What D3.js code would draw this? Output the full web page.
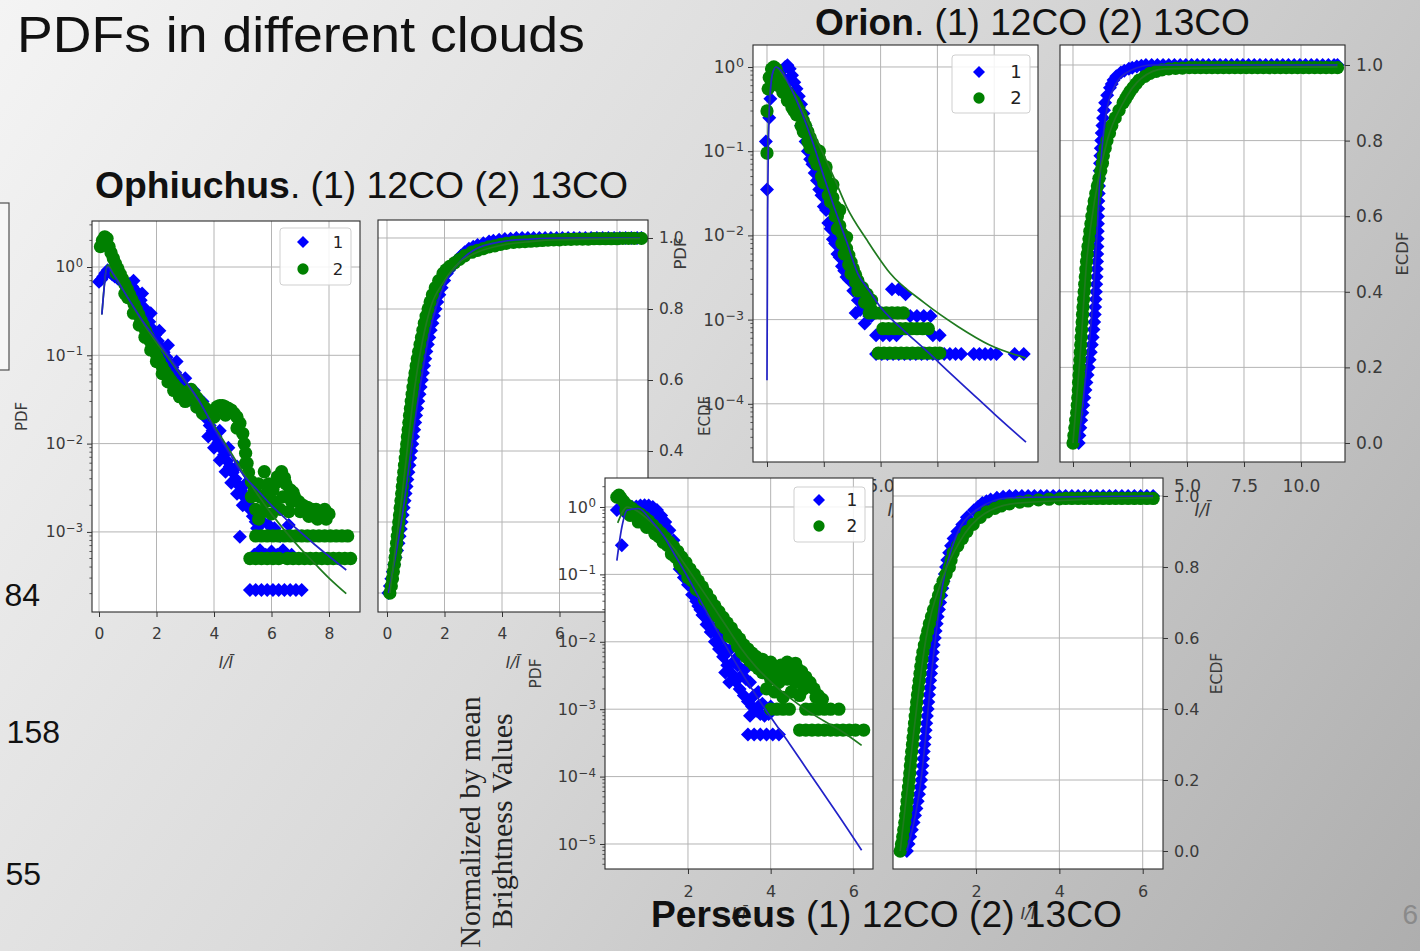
<!DOCTYPE html>
<html><head><meta charset="utf-8">
<script src="https://cdn.jsdelivr.net/npm/d3@7"></script>
<style>
html,body{margin:0;padding:0;overflow:hidden;background:#ddd;}
svg{display:block;}
</style></head><body>
<svg id="slide" width="1420" height="951"></svg>
<script>
// ---------------- data ----------------
// series "1" = 12CO (blue diamonds), series "2" = 13CO (green circles); x = I / mean(I)
const legendLabels = ["1", "2"];

// Ophiuchus PDF
const ophPdf12 = [
 [0.00,0.68],[0.08,0.72],[0.15,0.78],[0.22,0.85],[0.30,0.92],[0.38,0.88],[0.46,0.82],[0.55,0.78],[0.65,0.74],[0.75,0.70],
 [0.85,0.68],[0.95,0.66],[1.05,0.64],[1.15,0.60],[1.25,0.55],[1.35,0.48],[1.45,0.42],[1.55,0.35],[1.65,0.29],[1.75,0.24],
 [1.85,0.20],[1.95,0.17],[2.05,0.145],[2.15,0.125],[2.25,0.108],[2.35,0.095],[2.45,0.083],[2.55,0.073],[2.65,0.064],[2.75,0.056],
 [2.85,0.050],[2.95,0.044],[3.05,0.039],[3.15,0.035],[3.25,0.031],[3.35,0.028],[3.45,0.025],[3.55,0.023],[3.65,0.021],[3.75,0.019],
 [3.85,0.016],[3.95,0.014],[4.05,0.012],[4.15,0.0103],[4.25,0.0088],[4.35,0.0075],[4.45,0.0064],[4.55,0.0055],[4.65,0.0047],[4.75,0.0040],
 [4.85,0.0034],[4.95,0.0029],[5.05,0.0025],[5.15,0.0021],[5.25,0.0018],[5.35,0.0015],[5.45,0.0013],
 [1.30,0.40],[1.60,0.22],[1.90,0.13],[2.20,0.090],[2.50,0.062],[3.80,0.012],[4.00,0.0090],[4.20,0.0065],[4.40,0.0048],[4.60,0.0036],[4.80,0.0027],[5.00,0.0020],
 [1.20,0.70],[1.50,0.50],[1.80,0.30],[2.10,0.19],[2.40,0.13],[2.70,0.085],[3.00,0.055],[3.30,0.040],[3.60,0.030],[3.90,0.022],
 [4.20,0.014],[4.50,0.009],[4.80,0.0055],[5.10,0.0035],[5.30,0.0025],
 [4.90,0.00088],[5.50,0.0011],[5.70,0.0013],[5.90,0.0012],[6.10,0.0011],[6.30,0.0009],[6.60,0.0012],
 [5.40,0.00055],[5.60,0.00062],[5.80,0.00055],[6.00,0.00060],[6.20,0.00055],[6.40,0.00062],[6.70,0.00055],
 [5.25,0.00022],[5.45,0.00022],[5.65,0.00022],[5.85,0.00022],[6.05,0.00022],[6.25,0.00022],[6.45,0.00022],[6.65,0.00022],[6.85,0.00022],[7.05,0.00022]
];
const ophPdf13 = [
 [0.05,1.70],[0.12,2.00],[0.20,2.20],[0.28,2.10],[0.35,1.70],[0.42,1.45],[0.50,1.25],[0.58,1.08],[0.66,0.95],[0.74,0.83],
 [0.82,0.73],[0.90,0.64],[0.98,0.56],[1.06,0.49],[1.14,0.43],[1.22,0.38],[1.30,0.33],[1.38,0.29],[1.46,0.25],[1.54,0.22],
 [1.62,0.19],[1.70,0.165],[1.78,0.145],[1.86,0.125],[1.94,0.11],[2.02,0.096],[2.10,0.085],[2.20,0.074],[2.30,0.065],[2.40,0.058],
 [2.50,0.052],[2.60,0.047],[2.70,0.043],[2.80,0.040],[2.90,0.038],[3.00,0.037],[3.10,0.039],[3.20,0.041],[3.30,0.037],[3.40,0.033],
 [3.50,0.030],[3.60,0.027],[3.70,0.025],[3.80,0.023],[3.90,0.022],[4.00,0.024],[4.10,0.026],[4.20,0.027],[4.30,0.027],[4.40,0.026],
 [4.50,0.025],[4.60,0.024],[4.70,0.022],[4.80,0.020],[4.90,0.017],[5.00,0.013],[5.05,0.010],[5.10,0.0078],[5.15,0.0060],[5.20,0.0047],
 [5.30,0.0037],[5.40,0.0030],[5.50,0.0026],
 [1.00,0.45],[1.40,0.22],[1.80,0.115],[2.20,0.062],[2.60,0.040],[3.00,0.030],[3.40,0.026],
 [0.60,0.85],[0.90,0.50],[1.20,0.30],[1.60,0.16],[2.00,0.085],[2.40,0.050],[2.80,0.034],[3.20,0.034],[3.60,0.022],[4.00,0.020],
 [4.40,0.021],[4.80,0.015],[5.10,0.0060],[5.30,0.0025],[5.45,0.0018],[5.55,0.0014],
 [5.60,0.0025],[5.75,0.0048],[5.90,0.0035],[6.05,0.0030],[6.20,0.0042],[6.35,0.0048],[6.50,0.0035],[6.65,0.0030],[6.80,0.0025],[6.95,0.0022],
 [7.10,0.0020],[7.25,0.0019],[7.40,0.0018],[7.55,0.0018],[7.70,0.0016],[7.85,0.0018],[5.70,0.0017],[6.00,0.0016],[6.30,0.0018],[6.60,0.0017],
 [5.80,0.0022],[6.10,0.0022],[6.40,0.0025],[6.70,0.0022],[7.00,0.0017],[7.30,0.0015],[7.60,0.0014],[7.90,0.0014],[8.00,0.0016],
 [5.55,0.0035],[5.85,0.0028],[6.15,0.0036],[6.45,0.0041],[6.75,0.0028],
 [5.45,0.0009],[5.65,0.0009],[5.85,0.0009],[6.05,0.0009],[6.25,0.0009],[6.45,0.0009],[6.65,0.0009],[6.85,0.0009],[7.05,0.0009],
 [7.25,0.0009],[7.45,0.0009],[7.65,0.0009],[7.85,0.0009],[8.05,0.0009],[8.25,0.0009],[8.45,0.0009],[8.65,0.0009],
 [5.25,0.0005],[5.45,0.0005],[5.65,0.0005],[5.85,0.0005],[6.05,0.0005],[6.25,0.0005],[6.55,0.0005],[6.75,0.0005],[6.95,0.0005],
 [7.15,0.0005],[7.35,0.0005],[7.55,0.0005],[7.75,0.0005],[7.95,0.0005],[8.15,0.0005],[8.35,0.0005],[8.55,0.0005],[8.75,0.0005]
];
const ophFit12 = [[0.1,0.29],[0.3,1.0],[0.5,0.82],[1.0,0.45],[1.5,0.25],[2.0,0.15],[2.5,0.09],[3.0,0.052],[3.5,0.03],[4.0,0.015],
 [4.5,0.0082],[5.0,0.0045],[5.5,0.003],[6.0,0.002],[6.5,0.0014],[7.0,0.001],[7.5,0.00072],[8.0,0.00053],[8.6,0.00037]];
const ophFit13 = [[0.1,0.29],[0.3,1.05],[0.5,0.85],[1.0,0.45],[1.5,0.24],[2.0,0.14],[2.5,0.085],[3.0,0.05],[3.5,0.029],[4.0,0.016],
 [4.5,0.0088],[5.0,0.0048],[5.5,0.0027],[6.0,0.0016],[6.5,0.001],[7.0,0.00065],[7.5,0.00044],[8.0,0.0003],[8.6,0.0002]];

// Ophiuchus ECDF
const ophEcdf12 = [
 [0.05,0.00],[0.10,0.02],[0.15,0.04],[0.20,0.06],[0.25,0.08],[0.30,0.10],[0.35,0.12],[0.40,0.14],[0.44,0.16],[0.48,0.18],
 [0.51,0.20],[0.545,0.22],[0.58,0.24],[0.61,0.26],[0.645,0.28],[0.68,0.30],[0.71,0.32],[0.745,0.34],[0.78,0.36],[0.81,0.38],
 [0.845,0.40],[0.88,0.42],[0.91,0.44],[0.945,0.46],[0.98,0.48],[1.01,0.50],[1.05,0.52],[1.09,0.54],[1.13,0.56],[1.17,0.58],
 [1.21,0.60],[1.25,0.62],[1.29,0.64],[1.33,0.66],[1.37,0.68],[1.42,0.70],[1.47,0.72],[1.52,0.74],[1.58,0.76],[1.63,0.78],
 [1.69,0.80],[1.75,0.82],[1.82,0.84],[1.90,0.86],[1.99,0.88],[2.08,0.90],[2.16,0.91],[2.25,0.92],[2.35,0.93],[2.45,0.94],
 [2.57,0.95],[2.70,0.96],[2.85,0.97],[3.00,0.975],[3.15,0.98],[3.35,0.985],[3.55,0.99],[3.70,0.992],[3.90,0.995],[4.10,0.997],
 [4.30,0.998],[4.50,1],[4.70,1],[4.90,1],[5.10,1],[5.30,1],[5.50,1],[5.70,1],[5.90,1],[6.10,1],[6.30,1],[6.50,1],[6.70,1],
 [6.90,1],[7.10,1],[7.30,1],[7.50,1],[7.70,1],[7.90,1],[8.10,1],[8.30,1],[8.50,1],[8.70,1],[8.85,1]
];
const ophEcdf13 = [
 [0.10,0.00],[0.15,0.02],[0.19,0.04],[0.22,0.06],[0.255,0.08],[0.285,0.10],[0.31,0.12],[0.335,0.14],[0.36,0.16],[0.385,0.18],
 [0.41,0.20],[0.435,0.22],[0.46,0.24],[0.485,0.26],[0.51,0.28],[0.535,0.30],[0.56,0.32],[0.585,0.34],[0.61,0.36],[0.635,0.38],
 [0.66,0.40],[0.685,0.42],[0.71,0.44],[0.735,0.46],[0.76,0.48],[0.785,0.50],[0.815,0.52],[0.845,0.54],[0.875,0.56],[0.905,0.58],
 [0.94,0.60],[0.975,0.62],[1.015,0.64],[1.055,0.66],[1.10,0.68],[1.15,0.70],[1.20,0.72],[1.25,0.74],[1.30,0.76],[1.36,0.78],
 [1.43,0.80],[1.50,0.82],[1.58,0.84],[1.68,0.86],[1.80,0.88],[1.95,0.90],[2.05,0.91],[2.18,0.92],[2.35,0.93],[2.52,0.94],
 [2.70,0.95],[2.95,0.96],[3.15,0.965],[3.35,0.97],[3.55,0.975],[3.75,0.978],[3.95,0.982],[4.15,0.985],[4.40,0.988],[4.60,0.989],
 [4.80,0.99],[5.00,0.991],[5.20,0.992],[5.40,0.993],[5.60,0.994],[5.80,0.995],[6.00,0.995],[6.20,0.996],[6.40,0.996],[6.60,0.997],
 [6.80,0.997],[7.00,0.997],[7.20,0.998],[7.40,0.998],[7.60,0.998],[7.80,0.998],[8.00,0.998],[8.20,0.999],[8.40,0.999],[8.60,0.999],[8.85,0.999]
];
const ophEcdfFit12 = [[0.05,0.0],[0.5,0.2],[1.0,0.5],[1.5,0.74],[2.0,0.87],[2.5,0.93],[3.0,0.965],[4.0,0.99],[5.0,0.997],[6.0,1],[8.8,1]];
const ophEcdfFit13 = [[0.1,0.0],[0.5,0.26],[1.0,0.6],[1.5,0.8],[2.0,0.88],[2.5,0.93],[3.0,0.955],[4.0,0.98],[5.0,0.99],[6.0,0.995],[8.8,0.998]];

// Orion PDF
const oriPdf12 = [
 [0.00,0.035],[-0.05,0.13],[0.10,0.25],[0.15,0.42],[0.25,0.60],[0.35,0.72],[0.50,0.80],[0.65,0.90],[0.80,1.00],[0.90,1.05],
 [1.00,0.95],[1.10,0.80],[1.20,0.66],[1.30,0.55],[1.40,0.45],[1.50,0.36],[1.60,0.28],[1.70,0.20],[1.80,0.15],[1.90,0.12],
 [2.00,0.10],[2.10,0.085],[2.20,0.075],[2.30,0.065],[2.40,0.055],[2.50,0.046],[2.60,0.038],[2.70,0.031],[2.80,0.025],[2.90,0.019],
 [3.00,0.015],[3.10,0.012],[3.20,0.0095],[3.30,0.0077],[3.40,0.0063],[3.50,0.0052],[3.60,0.0043],[3.70,0.0036],[3.80,0.0030],[3.90,0.0025],
 [4.00,0.0021],[4.20,0.0017],[4.40,0.0013],[4.60,0.0011],
 [1.30,0.30],[1.50,0.20],[1.70,0.13],[1.90,0.08],[2.10,0.055],[2.30,0.035],[2.50,0.022],[2.70,0.014],[2.90,0.009],[3.10,0.006],[3.30,0.0043],[3.50,0.0032],
 [0.60,0.60],[0.80,0.70],[1.00,0.70],[1.20,0.50],[1.40,0.33],[1.60,0.20],[1.80,0.10],[2.00,0.070],[2.20,0.045],[2.40,0.030],
 [2.60,0.020],[2.80,0.012],[3.00,0.008],[3.20,0.0055],[3.40,0.0038],[3.60,0.0030],[3.80,0.0022],[4.00,0.0017],[4.10,0.0013],[3.90,0.0012],
 [4.30,0.0009],[4.50,0.0011],[4.80,0.00065],[5.10,0.00065],[5.40,0.00065],[5.70,0.00065],[5.50,0.0023],[5.80,0.0023],[6.10,0.0020],
 [6.30,0.0011],[6.60,0.0011],[6.90,0.0011],[7.20,0.0011],[7.30,0.00065],[7.60,0.00065],
 [4.80,0.00039],[5.05,0.00039],[5.30,0.00039],[5.55,0.00039],[5.80,0.00039],[6.05,0.00039],[6.30,0.00039],[6.55,0.00039],[6.80,0.00039],
 [7.05,0.00039],[7.30,0.00039],[7.55,0.00039],[7.80,0.00039],[8.05,0.00039],[8.30,0.00039],[8.55,0.00039],[9.10,0.00039],[9.35,0.00039],
 [9.60,0.00039],[9.85,0.00039],[10.10,0.00039],[10.90,0.00039],[11.30,0.00039]
];
const oriPdf13 = [
 [0.00,0.095],[0.00,0.30],[0.05,0.55],[0.10,0.75],[0.20,0.95],[0.30,1.00],[0.40,0.95],[0.50,0.80],[0.60,0.68],[0.70,0.60],
 [0.80,0.54],[0.90,0.50],[1.00,0.46],[1.10,0.42],[1.20,0.39],[1.30,0.35],[1.40,0.31],[1.50,0.27],[1.60,0.23],[1.70,0.20],
 [1.80,0.17],[1.90,0.145],[2.00,0.125],[2.10,0.11],[2.20,0.095],[2.30,0.082],[2.40,0.070],[2.50,0.060],[2.60,0.050],[2.70,0.042],
 [2.80,0.035],[2.90,0.028],[3.00,0.022],[3.10,0.017],[3.20,0.013],[3.30,0.0105],[3.40,0.0085],[3.50,0.0070],[3.60,0.0058],[3.70,0.0048],
 [3.80,0.0040],[3.90,0.0034],[4.00,0.0029],[4.20,0.0024],[4.40,0.0020],[4.60,0.0017],
 [1.20,0.30],[1.50,0.20],[1.80,0.13],[2.10,0.08],[2.40,0.05],[2.70,0.03],[3.00,0.017],[3.30,0.008],[3.60,0.0045],[3.90,0.0028],
 [0.50,0.60],[0.70,0.50],[0.90,0.40],[1.10,0.33],[1.30,0.27],[1.60,0.17],[1.90,0.11],[2.20,0.07],[2.50,0.042],[2.80,0.025],
 [3.10,0.012],[3.40,0.006],[3.70,0.0035],[4.00,0.0022],[4.30,0.0016],[4.60,0.0013],[2.30,0.10],[2.60,0.065],[2.90,0.040],[3.20,0.020],[3.50,0.0095],
 [4.50,0.0012],[4.75,0.0012],[5.00,0.0012],[5.25,0.0012],[5.50,0.0012],[5.75,0.0012],[6.00,0.0012],
 [5.10,0.00078],[5.35,0.00078],[5.60,0.00078],[5.85,0.00078],[6.10,0.00078],[6.35,0.00078],[6.60,0.00078],[6.85,0.00078],[7.10,0.00078],
 [4.90,0.0004],[5.15,0.0004],[5.40,0.0004],[5.65,0.0004],[5.90,0.0004],[6.15,0.0004],[6.40,0.0004],[6.65,0.0004],[6.90,0.0004],
 [7.15,0.0004],[7.40,0.0004],[7.60,0.0004]
];
const oriFit12 = [[0.0,0.00019],[0.03,0.02],[0.1,0.3],[0.25,0.85],[0.4,1.0],[0.7,0.85],[1.0,0.6],[1.5,0.3],[2.0,0.13],[2.5,0.05],
 [3.0,0.02],[3.5,0.0085],[4.0,0.0035],[4.5,0.0022],[5.0,0.0014],[5.5,0.001],[6.0,0.00075],[7.0,0.00043],[8.0,0.00024],[9.0,0.000135],
 [10.0,0.000076],[11.4,0.000035]];
const oriFit13 = [[0.02,0.08],[0.1,0.35],[0.25,0.85],[0.4,1.0],[0.7,0.8],[1.0,0.6],[1.5,0.33],[2.0,0.17],[2.5,0.09],[3.0,0.045],
 [3.5,0.022],[4.4,0.0088],[5.4,0.0036],[6.9,0.0016],[8.4,0.00083],[9.8,0.0005],[11.4,0.00035]];

// Orion ECDF
const oriEcdf12 = [
 [0.25,0.00],[0.28,0.02],[0.32,0.04],[0.36,0.06],[0.41,0.08],[0.45,0.10],[0.50,0.12],[0.545,0.14],[0.59,0.16],[0.64,0.18],
 [0.685,0.20],[0.73,0.22],[0.78,0.24],[0.825,0.26],[0.865,0.28],[0.90,0.30],[0.93,0.32],[0.955,0.34],[0.97,0.36],[0.99,0.38],
 [1.005,0.40],[1.02,0.42],[1.035,0.44],[1.045,0.46],[1.055,0.48],[1.065,0.50],[1.072,0.52],[1.08,0.54],[1.087,0.56],[1.093,0.58],
 [1.10,0.60],[1.107,0.62],[1.113,0.64],[1.13,0.66],[1.14,0.68],[1.155,0.70],[1.17,0.72],[1.185,0.74],[1.20,0.76],[1.22,0.78],
 [1.24,0.80],[1.26,0.82],[1.29,0.84],[1.32,0.86],[1.36,0.88],[1.41,0.90],[1.50,0.92],[1.62,0.94],[1.70,0.95],[1.78,0.96],
 [1.90,0.97],[2.10,0.98],[2.25,0.985],[2.45,0.99],[2.60,0.993],[2.80,0.996],[3.00,0.998],[3.20,1],
 [3.45,1],[3.70,1],[3.95,1],[4.20,1],[4.45,1],[4.70,1],[4.95,1],[5.20,1],[5.45,1],[5.70,1],[5.95,1],[6.20,1],[6.45,1],[6.70,1],
 [6.95,1],[7.20,1],[7.45,1],[7.70,1],[7.95,1],[8.20,1],[8.45,1],[8.70,1],[8.95,1],[9.20,1],[9.45,1],[9.70,1],[9.95,1],[10.20,1],
 [10.45,1],[10.70,1],[10.95,1],[11.20,1],[11.45,1],[11.60,1]
];
const oriEcdf13 = [
 [0.00,0.00],[0.04,0.02],[0.08,0.04],[0.12,0.06],[0.16,0.08],[0.19,0.10],[0.21,0.12],[0.23,0.14],[0.245,0.16],[0.265,0.18],
 [0.28,0.20],[0.30,0.22],[0.32,0.24],[0.34,0.26],[0.36,0.28],[0.38,0.30],[0.40,0.32],[0.42,0.34],[0.44,0.36],[0.465,0.38],
 [0.49,0.40],[0.515,0.42],[0.54,0.44],[0.565,0.46],[0.595,0.48],[0.625,0.50],[0.66,0.52],[0.70,0.54],[0.74,0.56],[0.785,0.58],
 [0.83,0.60],[0.88,0.62],[0.93,0.64],[1.00,0.66],[1.07,0.68],[1.14,0.70],[1.22,0.72],[1.29,0.74],[1.33,0.76],[1.41,0.78],
 [1.49,0.80],[1.60,0.82],[1.70,0.84],[1.85,0.86],[2.02,0.88],[2.20,0.90],[2.30,0.91],[2.40,0.92],[2.50,0.93],[2.63,0.94],
 [2.76,0.95],[2.90,0.96],[3.15,0.97],[3.38,0.978],[3.65,0.983],[3.90,0.987],[4.20,0.99],[4.50,0.991],[4.80,0.992],[5.10,0.993],
 [5.35,0.993],[5.60,0.993],[5.85,0.993],[6.10,0.993],[6.35,0.993],[6.60,0.993],[6.85,0.993],[7.10,0.993],[7.35,0.993],[7.60,0.993],
 [7.85,0.993],[8.10,0.993],[8.35,0.993],[8.60,0.993],[8.85,0.993],[9.10,0.993],[9.35,0.993],[9.60,0.993],[9.85,0.993],[10.10,0.993],
 [10.35,0.993],[10.60,0.993],[10.85,0.993],[11.10,0.993],[11.35,0.993],[11.60,0.993]
];
const oriEcdfFit12 = [[0.25,0.0],[0.6,0.2],[0.9,0.4],[1.05,0.55],[1.2,0.72],[1.4,0.85],[1.8,0.94],[2.5,0.985],[3.5,1],[11.6,1]];
const oriEcdfFit13 = [[0.0,0.0],[0.3,0.22],[0.6,0.48],[1.0,0.66],[1.5,0.8],[2.2,0.9],[3.0,0.965],[4.0,0.99],[11.6,0.995]];

// Perseus PDF
const perPdf12 = [
 [0.28,0.90],[0.40,0.27],[0.45,0.85],[0.55,0.95],[0.65,1.00],[0.75,1.02],[0.85,1.05],[0.95,1.06],[1.05,1.05],[1.15,1.00],
 [1.25,0.90],[1.35,0.75],[1.45,0.60],[1.55,0.45],[1.65,0.32],[1.75,0.22],[1.85,0.15],[1.95,0.10],[2.05,0.068],[2.15,0.048],
 [2.25,0.034],[2.35,0.025],[2.45,0.018],[2.55,0.014],[2.65,0.010],[2.75,0.0078],[2.85,0.0060],[2.95,0.0045],[3.05,0.0034],[3.15,0.0026],
 [3.25,0.0020],[3.35,0.0016],[3.45,0.0013],[3.55,0.0011],[3.65,0.00095],[3.75,0.00085],[3.85,0.00080],[3.95,0.00085],
 [1.10,0.75],[1.30,0.50],[1.50,0.30],[1.70,0.17],[1.90,0.09],[2.10,0.05],[2.30,0.03],[2.50,0.020],[2.70,0.013],[2.90,0.008],
 [3.10,0.005],[3.30,0.0032],[3.50,0.0025],[3.70,0.0018],[3.20,0.0045],[3.40,0.0040],[2.90,0.0035],[3.00,0.0025],
 [0.60,0.80],[0.80,0.85],[1.00,0.85],[1.20,0.65],[1.40,0.42],[1.60,0.24],[1.80,0.12],[2.00,0.070],[2.20,0.040],[2.40,0.024],
 [2.60,0.016],[2.80,0.011],[3.00,0.0075],[3.20,0.0060],[3.40,0.0028],[3.60,0.0016],[3.80,0.0012],[4.00,0.0009],
 [3.50,0.0008],[3.70,0.0011],[4.00,0.0011],
 [3.45,0.00042],[3.60,0.00042],[3.75,0.00042],[3.90,0.00042],[4.05,0.00042],[4.20,0.00042]
];
const perPdf13 = [
 [0.28,1.40],[0.33,1.50],[0.38,1.35],[0.45,1.20],[0.55,1.05],[0.65,0.95],[0.75,0.85],[0.85,0.78],[0.95,0.70],[1.05,0.62],
 [1.15,0.54],[1.25,0.47],[1.35,0.41],[1.45,0.35],[1.55,0.30],[1.65,0.26],[1.75,0.22],[1.85,0.18],[1.95,0.15],[2.05,0.12],
 [2.15,0.10],[2.25,0.080],[2.35,0.065],[2.45,0.052],[2.55,0.042],[2.65,0.034],[2.75,0.028],[2.85,0.023],[2.95,0.019],[3.05,0.016],
 [3.15,0.013],[3.25,0.011],[3.35,0.0090],[3.45,0.0078],[3.55,0.0068],[3.65,0.0060],[3.75,0.0054],[3.85,0.0049],[3.95,0.0045],[4.05,0.0042],
 [4.15,0.0040],[4.25,0.0045],[4.35,0.0042],[4.45,0.0040],[4.55,0.0045],[4.65,0.0040],[4.75,0.0036],[4.85,0.0030],[4.95,0.0025],[5.05,0.0020],
 [5.15,0.0016],[5.25,0.0014],
 [0.60,0.75],[0.80,0.60],[1.00,0.50],[1.20,0.40],[1.40,0.30],[1.60,0.20],[1.80,0.14],[2.00,0.09],[2.20,0.06],[2.40,0.042],
 [2.60,0.028],[2.80,0.019],[3.00,0.012],[3.20,0.0085],[3.40,0.0060],[3.60,0.0045],[3.80,0.0035],[4.00,0.0028],[4.20,0.0025],[4.40,0.0028],
 [4.60,0.0025],[4.80,0.0020],[3.90,0.0020],[4.10,0.0018],[4.30,0.0015],[4.50,0.0018],[4.70,0.0016],
 [0.50,0.90],[0.70,0.75],[0.90,0.60],[1.10,0.50],[1.30,0.36],[1.50,0.27],[1.70,0.18],[1.90,0.12],[2.10,0.08],[2.30,0.055],
 [2.50,0.036],[2.70,0.024],[2.90,0.016],[3.10,0.011],[3.30,0.007],[3.50,0.0052],[3.70,0.0040],[3.90,0.0034],[4.10,0.0030],[4.30,0.0032],
 [4.50,0.0030],[4.70,0.0028],[4.90,0.0022],[5.10,0.0015],[3.80,0.0055],[4.00,0.0050],[4.40,0.0050],[4.60,0.0048],
 [4.00,0.001],[4.15,0.001],[4.30,0.001],[4.45,0.001],[4.85,0.001],[5.00,0.001],[5.15,0.001],[5.30,0.001],[5.45,0.001],[5.65,0.001],
 [4.70,0.00049],[4.85,0.00049],[5.00,0.00049],[5.15,0.00049],[5.30,0.00049],[5.45,0.00049],[5.60,0.00049],[5.75,0.00049],[5.90,0.00049],
 [6.05,0.00049],[6.25,0.00049]
];
const perFit12 = [[0.28,0.16],[0.4,0.5],[0.53,0.9],[0.8,0.95],[1.1,0.64],[1.4,0.38],[1.65,0.21],[2.0,0.09],[2.46,0.027],[2.9,0.009],
 [3.26,0.0038],[3.65,0.0016],[4.05,0.00069],[4.45,0.00031],[4.87,0.00013],[5.27,0.000057],[5.67,0.000025],[6.2,0.0000081]];
const perFit13 = [[0.3,0.58],[0.53,1.0],[0.8,0.85],[1.1,0.6],[1.4,0.38],[1.64,0.25],[2.0,0.12],[2.46,0.046],[2.9,0.018],[3.26,0.0084],
 [3.65,0.0042],[4.05,0.0024],[4.45,0.0015],[4.87,0.00097],[5.27,0.00068],[5.67,0.00049],[6.2,0.00029]];

// Perseus ECDF
const perEcdf12 = [
 [0.34,0.00],[0.38,0.02],[0.42,0.04],[0.46,0.06],[0.50,0.08],[0.535,0.10],[0.57,0.12],[0.60,0.14],[0.63,0.16],[0.655,0.18],
 [0.68,0.20],[0.70,0.22],[0.715,0.24],[0.73,0.26],[0.745,0.28],[0.76,0.30],[0.775,0.32],[0.79,0.34],[0.805,0.36],[0.82,0.38],
 [0.84,0.40],[0.855,0.42],[0.87,0.44],[0.885,0.46],[0.90,0.48],[0.92,0.50],[0.935,0.52],[0.95,0.54],[0.965,0.56],[0.985,0.58],
 [1.01,0.60],[1.03,0.62],[1.055,0.64],[1.08,0.66],[1.11,0.68],[1.14,0.70],[1.165,0.72],[1.19,0.74],[1.22,0.76],[1.25,0.78],
 [1.28,0.80],[1.31,0.82],[1.355,0.84],[1.40,0.86],[1.46,0.88],[1.55,0.90],[1.67,0.92],[1.78,0.94],[1.95,0.96],[2.05,0.97],
 [2.15,0.98],[2.25,0.985],[2.35,0.99],[2.50,0.995],[2.65,0.998],[2.80,1],
 [2.95,1],[3.10,1],[3.25,1],[3.40,1],[3.55,1],[3.70,1],[3.85,1],[4.00,1],[4.15,1],[4.30,1],[4.45,1],[4.60,1],[4.75,1],
 [4.90,1],[5.05,1],[5.20,1],[5.35,1],[5.50,1],[5.65,1],[5.80,1],[5.95,1],[6.10,1],[6.25,1]
];
const perEcdf13 = [
 [0.18,0.00],[0.21,0.02],[0.24,0.04],[0.265,0.06],[0.29,0.08],[0.31,0.10],[0.33,0.12],[0.345,0.14],[0.36,0.16],[0.38,0.18],
 [0.395,0.20],[0.41,0.22],[0.425,0.24],[0.44,0.26],[0.455,0.28],[0.475,0.30],[0.49,0.32],[0.51,0.34],[0.525,0.36],[0.54,0.38],
 [0.56,0.40],[0.575,0.42],[0.595,0.44],[0.615,0.46],[0.635,0.48],[0.655,0.50],[0.675,0.52],[0.70,0.54],[0.725,0.56],[0.76,0.58],
 [0.80,0.60],[0.84,0.62],[0.88,0.64],[0.93,0.66],[0.98,0.68],[1.04,0.70],[1.10,0.72],[1.14,0.74],[1.21,0.76],[1.28,0.78],
 [1.36,0.80],[1.40,0.82],[1.45,0.84],[1.56,0.86],[1.67,0.88],[1.78,0.90],[1.93,0.92],[2.10,0.94],[2.26,0.955],[2.45,0.965],
 [2.60,0.972],[2.80,0.978],[3.05,0.983],[3.25,0.986],[3.50,0.989],[3.75,0.991],[4.00,0.992],
 [4.15,0.993],[4.30,0.993],[4.45,0.993],[4.60,0.993],[4.75,0.993],[4.90,0.993],[5.05,0.993],[5.20,0.993],[5.35,0.993],[5.50,0.993],
 [5.65,0.993],[5.80,0.993],[5.95,0.993],[6.10,0.993],[6.25,0.993]
];
const perEcdfFit12 = [[0.34,0.0],[0.7,0.22],[0.95,0.52],[1.2,0.75],[1.5,0.88],[2.0,0.96],[2.8,0.995],[6.25,1]];
const perEcdfFit13 = [[0.18,0.0],[0.5,0.33],[0.8,0.6],[1.2,0.77],[1.6,0.87],[2.2,0.95],[3.0,0.98],[6.25,0.995]];

// tick values
const ophXTicks = [0, 2, 4, 6, 8];
const oriXTicks = [0, 2.5, 5, 7.5, 10];
const perXTicks = [2, 4, 6];
const ophYTicks = [1e-3, 1e-2, 1e-1, 1];
const oriYTicks = [1e-4, 1e-3, 1e-2, 1e-1, 1];
const perYTicks = [1e-5, 1e-4, 1e-3, 1e-2, 1e-1, 1];
const ecdfTicks = [0, 0.2, 0.4, 0.6, 0.8, 1.0];

// ---------------- drawing ----------------
const BLUE = "#0000ff", GREEN = "#008000";
const BLUE_LINE = "#2222c8", GREEN_LINE = "#1f7a1f";
const MPL_FONT = "'DejaVu Sans', Verdana, sans-serif";
const SLIDE_FONT = "'Liberation Sans', Arial, Helvetica, sans-serif";

const svg = d3.select("#slide");
const defs = svg.append("defs");

const grad = defs.append("linearGradient").attr("id", "slideBg")
  .attr("gradientUnits", "userSpaceOnUse").attr("x1", 0).attr("y1", 0).attr("x2", 1420).attr("y2", 951);
grad.append("stop").attr("offset", 0).attr("stop-color", "#f4f4f4");
grad.append("stop").attr("offset", 0.45).attr("stop-color", "#dadada");
grad.append("stop").attr("offset", 1).attr("stop-color", "#aeaeae");
svg.append("rect").attr("width", 1420).attr("height", 951).attr("fill", "url(#slideBg)");

// scale a text element horizontally so its rendered width equals `target`
function fitWidth(sel, x0, y0, target) {
  const w = sel.node().getComputedTextLength();
  sel.attr("x", 0).attr("y", 0).attr("transform", `translate(${x0},${y0}) scale(${target / w},1)`);
}

// left-hand remnants of the neighbouring content
svg.append("rect").attr("x", -10).attr("y", 203).attr("width", 19).attr("height", 167)
  .attr("fill", "#f6f6f6").attr("stroke", "#505050").attr("stroke-width", 1.2);
const sideNums = [["84", 40, 606], ["158", 60, 743], ["55", 41, 885]];
svg.append("g").selectAll("text").data(sideNums).join("text")
  .attr("x", d => d[1]).attr("y", d => d[2]).attr("text-anchor", "end")
  .attr("font-family", SLIDE_FONT).attr("font-size", 32).attr("fill", "#111").text(d => d[0]);

// page title
const title = svg.append("text").attr("font-family", SLIDE_FONT).attr("font-size", 50).attr("fill", "#111")
  .text("PDFs in different clouds");
fitWidth(title, 17, 52, 568);

function cloudTitle(name, rest, x0, y0, width) {
  const t = svg.append("text").attr("font-family", SLIDE_FONT).attr("font-size", 37).attr("fill", "#111");
  t.append("tspan").attr("font-weight", "bold").text(name);
  t.append("tspan").text(rest);
  fitWidth(t, x0, y0, width);
}

let clipCount = 0;
function powLabel(sel) {
  sel.each(function (d) {
    const t = d3.select(this);
    const e = Math.round(Math.log10(d));
    t.text("10");
    t.append("tspan").attr("dy", "-0.48em").attr("dx", "0.05em").attr("font-size", "0.74em")
      .text(e < 0 ? "\u2212" + (-e) : String(e));
  });
}

function drawPanel(cfg) {
  const b = cfg.box;
  const g = svg.append("g");
  const W = b.right - b.left, H = b.bottom - b.top;
  const x = d3.scaleLinear().domain(cfg.xDomain).range([b.left, b.right]);
  const y = cfg.logY ? d3.scaleLog().domain(cfg.yDomain).range([b.bottom, b.top])
                     : d3.scaleLinear().domain(cfg.yDomain).range([b.bottom, b.top]);
  const fs = cfg.fontSize;

  g.append("rect").attr("x", b.left).attr("y", b.top).attr("width", W).attr("height", H).attr("fill", "#fff");

  const grid = g.append("g").attr("stroke", "#b4b4b4").attr("stroke-width", 1);
  grid.selectAll("line.gx").data(cfg.xTicks).join("line").attr("class", "gx")
    .attr("x1", d => x(d)).attr("x2", d => x(d)).attr("y1", b.top).attr("y2", b.bottom);
  grid.selectAll("line.gy").data(cfg.yTicks).join("line").attr("class", "gy")
    .attr("x1", b.left).attr("x2", b.right).attr("y1", d => y(d)).attr("y2", d => y(d));

  const cid = "plotClip" + (clipCount++);
  defs.append("clipPath").attr("id", cid).append("rect")
    .attr("x", b.left).attr("y", b.top).attr("width", W).attr("height", H);
  const plot = g.append("g").attr("clip-path", `url(#${cid})`);

  const ms = cfg.markerSize;
  const diamond = d3.symbol().type(d3.symbolSquare).size(ms * ms / 2);
  const circle = d3.symbol().type(d3.symbolCircle).size(Math.PI * ms * ms / 4 * 0.9);

  cfg.series.forEach(s => {
    const isD = s.marker === "D";
    plot.append("g").selectAll("path").data(s.data).join("path")
      .attr("d", isD ? diamond : circle)
      .attr("fill", s.color)
      .attr("transform", d => `translate(${x(d[0]).toFixed(2)},${y(d[1]).toFixed(2)})${isD ? " rotate(45)" : ""}`);
  });
  const line = d3.line().x(d => x(d[0])).y(d => y(d[1])).curve(d3.curveMonotoneX);
  cfg.fits.forEach(f => {
    plot.append("path").datum(f.data).attr("fill", "none").attr("stroke", f.color)
      .attr("stroke-width", 1.7).attr("d", line);
  });

  g.append("rect").attr("x", b.left).attr("y", b.top).attr("width", W).attr("height", H)
    .attr("fill", "none").attr("stroke", "#2a2a2a").attr("stroke-width", 1.1);

  // x axis
  const xa = g.append("g").attr("transform", `translate(0,${b.bottom})`)
    .call(d3.axisBottom(x).tickValues(cfg.xTicks).tickFormat(cfg.xFormat).tickSize(5).tickSizeOuter(0));
  xa.select(".domain").remove();
  xa.attr("font-family", MPL_FONT).attr("font-size", fs).attr("color", "#333");
  xa.selectAll(".tick text").attr("dy", null).attr("y", cfg.xTickBase).attr("fill", "#3a3a3a");

  // y axis
  const yAxis = (cfg.yRight ? d3.axisRight(y) : d3.axisLeft(y)).tickValues(cfg.yTicks)
    .tickSize(5).tickPadding(cfg.yRight ? 6 : 4).tickSizeOuter(0);
  if (!cfg.logY) yAxis.tickFormat(d3.format(".1f"));
  const ya = g.append("g").attr("transform", `translate(${cfg.yRight ? b.right : b.left},0)`).call(yAxis);
  ya.select(".domain").remove();
  ya.attr("font-family", MPL_FONT).attr("font-size", fs).attr("color", "#333");
  ya.selectAll(".tick text").attr("fill", "#3a3a3a");
  if (cfg.logY) {
    ya.selectAll(".tick text").call(powLabel);
    const minor = y.ticks().filter(v => Math.abs(Math.log10(v) - Math.round(Math.log10(v))) > 1e-6);
    g.append("g").selectAll("line").data(minor).join("line")
      .attr("x1", b.left).attr("x2", b.left - 2.6).attr("y1", d => y(d)).attr("y2", d => y(d))
      .attr("stroke", "#333").attr("stroke-width", 0.8);
  }

  // axis titles
  g.append("text").attr("x", (b.left + b.right) / 2).attr("y", b.bottom + cfg.xLabelBase)
    .attr("text-anchor", "middle").attr("font-family", MPL_FONT).attr("font-style", "italic")
    .attr("font-size", fs).attr("fill", "#3a3a3a").text("I/\u012A");
  const yl = cfg.yRight ? b.right + cfg.yLabelOff : b.left - cfg.yLabelOff;
  g.append("text").attr("transform", `translate(${yl},${(b.top + b.bottom) / 2}) rotate(-90)`)
    .attr("text-anchor", "middle").attr("font-family", MPL_FONT).attr("font-size", fs - 0.5)
    .attr("fill", "#3a3a3a").text(cfg.yLabel);

  // legend
  if (cfg.legend) {
    const L = cfg.legend;
    const lg = g.append("g");
    lg.append("rect").attr("x", L.x).attr("y", L.y).attr("width", L.w).attr("height", L.h).attr("rx", 3)
      .attr("fill", "#fff").attr("fill-opacity", 0.85).attr("stroke", "#cfcfcf").attr("stroke-width", 1);
    const ld = d3.symbol().type(d3.symbolSquare).size(72);
    const lc = d3.symbol().type(d3.symbolCircle).size(100);
    cfg.series.forEach((s, i) => {
      const isD = s.marker === "D";
      lg.append("path").attr("d", isD ? ld : lc).attr("fill", s.color)
        .attr("transform", `translate(${L.mx},${L.rows[i]})${isD ? " rotate(45)" : ""}`);
      lg.append("text").attr("x", L.lx).attr("y", L.rows[i]).attr("dy", "0.36em").attr("text-anchor", "middle")
        .attr("font-family", MPL_FONT).attr("font-size", fs + 1).attr("fill", "#222").text(legendLabels[i]);
    });
  }
}

const intFmt = d3.format("d"), oneFmt = d3.format(".1f");

// ---- Ophiuchus ----
cloudTitle("Ophiuchus", ". (1) 12CO (2) 13CO", 95, 198, 533);
drawPanel({
  box: {left: 92, right: 360, top: 221, bottom: 612},
  xDomain: [-0.2435, 9.078], yDomain: [Math.pow(10, -3.907), Math.pow(10, 0.521)], logY: true,
  xTicks: ophXTicks, yTicks: ophYTicks, xFormat: intFmt, fontSize: 15.5, markerSize: 14,
  xTickBase: 27, xLabelBase: 56, yLabel: "PDF", yLabelOff: 65,
  series: [{data: ophPdf12, marker: "D", color: BLUE}, {data: ophPdf13, marker: "o", color: GREEN}],
  fits: [{data: ophFit13, color: GREEN_LINE}, {data: ophFit12, color: BLUE_LINE}],
  legend: {x: 280, y: 228, w: 71, h: 57, mx: 303, lx: 338, rows: [242, 269]}
});
drawPanel({
  box: {left: 378, right: 648, top: 220, bottom: 612},
  xDomain: [-0.313, 9.078], yDomain: [-0.0535, 1.0507], logY: false, yRight: true,
  xTicks: ophXTicks, yTicks: ecdfTicks, xFormat: intFmt, fontSize: 15.5, markerSize: 14,
  xTickBase: 27, xLabelBase: 56, yLabel: "ECDF", yLabelOff: 62,
  series: [{data: ophEcdf12, marker: "D", color: BLUE}, {data: ophEcdf13, marker: "o", color: GREEN}],
  fits: [{data: ophEcdfFit12, color: BLUE_LINE}, {data: ophEcdfFit13, color: GREEN_LINE}]
});

// ---- Orion ----
cloudTitle("Orion", ". (1) 12CO (2) 13CO", 815, 35, 435);
drawPanel({
  box: {left: 753, right: 1038, top: 45, bottom: 462},
  xDomain: [-0.616, 11.928], yDomain: [Math.pow(10, -4.691), Math.pow(10, 0.261)], logY: true,
  xTicks: oriXTicks, yTicks: oriYTicks, xFormat: oneFmt, fontSize: 17, markerSize: 14,
  xTickBase: 30, xLabelBase: 54, yLabel: "PDF", yLabelOff: 67,
  series: [{data: oriPdf12, marker: "D", color: BLUE}, {data: oriPdf13, marker: "o", color: GREEN}],
  fits: [{data: oriFit13, color: GREEN_LINE}, {data: oriFit12, color: BLUE_LINE}],
  legend: {x: 952, y: 55, w: 78, h: 58, mx: 979, lx: 1016, rows: [72, 98]}
});
drawPanel({
  box: {left: 1060, right: 1345, top: 45, bottom: 462},
  xDomain: [-0.57, 11.93], yDomain: [-0.0503, 1.0529], logY: false, yRight: true,
  xTicks: oriXTicks, yTicks: ecdfTicks, xFormat: oneFmt, fontSize: 17, markerSize: 14,
  xTickBase: 30, xLabelBase: 54, yLabel: "ECDF", yLabelOff: 63,
  series: [{data: oriEcdf12, marker: "D", color: BLUE}, {data: oriEcdf13, marker: "o", color: GREEN}],
  fits: [{data: oriEcdfFit12, color: BLUE_LINE}, {data: oriEcdfFit13, color: GREEN_LINE}]
});

// ---- Perseus ----
drawPanel({
  box: {left: 605, right: 873, top: 478, bottom: 869},
  xDomain: [-0.007, 6.475], yDomain: [Math.pow(10, -5.371), Math.pow(10, 0.43)], logY: true,
  xTicks: perXTicks, yTicks: perYTicks, xFormat: intFmt, fontSize: 16, markerSize: 14,
  xTickBase: 28, xLabelBase: 50, yLabel: "PDF", yLabelOff: 64,
  series: [{data: perPdf12, marker: "D", color: BLUE}, {data: perPdf13, marker: "o", color: GREEN}],
  fits: [{data: perFit13, color: GREEN_LINE}, {data: perFit12, color: BLUE_LINE}],
  legend: {x: 794, y: 487, w: 71, h: 55, mx: 819, lx: 852, rows: [500, 526]}
});
drawPanel({
  box: {left: 893, right: 1163, top: 478, bottom: 869},
  xDomain: [0.007, 6.487], yDomain: [-0.0507, 1.0507], logY: false, yRight: true,
  xTicks: perXTicks, yTicks: ecdfTicks, xFormat: intFmt, fontSize: 16, markerSize: 14,
  xTickBase: 28, xLabelBase: 50, yLabel: "ECDF", yLabelOff: 59,
  series: [{data: perEcdf12, marker: "D", color: BLUE}, {data: perEcdf13, marker: "o", color: GREEN}],
  fits: [{data: perEcdfFit12, color: BLUE_LINE}, {data: perEcdfFit13, color: GREEN_LINE}]
});
cloudTitle("Perseus", " (1) 12CO (2) 13CO", 651, 927, 471);

// rotated note
const note = [["Normalized by mean", 480, 822], ["Brightness Values", 512, 821]];
svg.append("g").selectAll("text").data(note).join("text")
  .attr("transform", d => `translate(${d[1]},${d[2]}) rotate(-90)`)
  .attr("text-anchor", "middle").attr("font-family", "'Liberation Serif', 'Times New Roman', serif")
  .attr("font-size", 30).attr("fill", "#222").text(d => d[0]);

// slide number
svg.append("text").attr("x", 1418).attr("y", 924).attr("text-anchor", "end")
  .attr("font-family", SLIDE_FONT).attr("font-size", 28).attr("fill", "#8a8a8a").text("6");
</script>
</body></html>
